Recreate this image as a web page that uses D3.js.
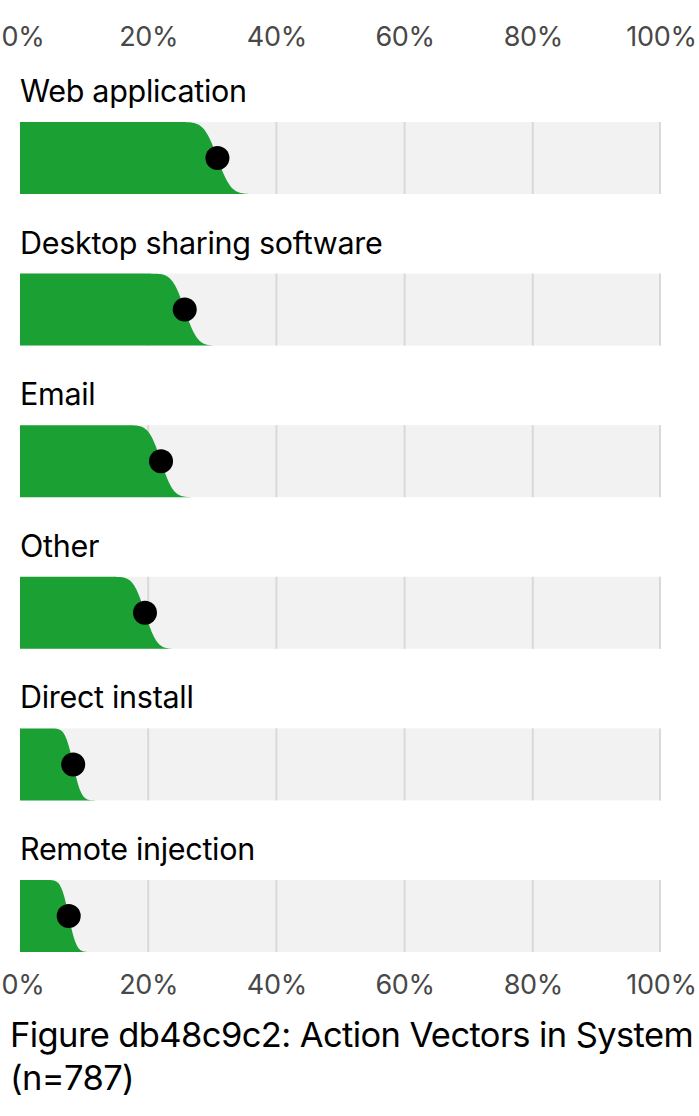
<!DOCTYPE html>
<html><head><meta charset="utf-8">
<script src="https://cdn.jsdelivr.net/npm/d3@7"></script>
<style>body{margin:0;background:#fff} svg{display:block}</style>
</head><body><svg id="c" width="699" height="1116"></svg>
<script>
const categories = ["Web application","Desktop sharing software","Email","Other","Direct install","Remote injection"];
const estimates = [30.8, 25.7, 22.0, 19.5, 8.3, 7.6];   // point estimate (%)
const spreads   = [1.65, 1.55, 1.5, 1.45, 1.0, 0.95];   // std. error (%)
const tickValues = [0, 20, 40, 60, 80, 100];
const tickLabels = ["0%", "20%", "40%", "60%", "80%", "100%"];
const titleLines = ["Figure db48c9c2: Action Vectors in System", "(n=787)"];

const FONT = "Inter, 'Liberation Sans', Arial, sans-serif";
const svg = d3.select("#c");
const x = d3.scaleLinear().domain([0, 100]).range([20, 661]);
const y = d3.scaleBand().domain(categories).range([122, 952]).paddingInner(0.525).paddingOuter(0);
const bw = y.bandwidth();

function erf(z) {
  const s = z < 0 ? -1 : 1; z = Math.abs(z);
  const t = 1 / (1 + 0.3275911 * z);
  const yv = 1 - (((((1.061405429 * t - 1.453152027) * t) + 1.421413741) * t - 0.284496736) * t + 0.254829592) * t * Math.exp(-z * z);
  return s * yv;
}
const ccdf = (v, mu, sd) => 1 - 0.5 * (1 + erf((v - mu) / (sd * Math.SQRT2)));

const rows = categories.map((c, i) => ({cat: c, est: estimates[i], sd: spreads[i]}));

const g = svg.selectAll("g.row").data(rows).join("g").attr("class", "row");

// background
g.append("rect").attr("x", x(0)).attr("y", d => y(d.cat)).attr("width", x(100) - x(0)).attr("height", bw).attr("fill", "#f2f2f2");
// gridlines
g.each(function(d) {
  d3.select(this).selectAll("line.grid").data(tickValues.slice(1)).join("line")
    .attr("class", "grid")
    .attr("x1", v => x(v) - (v === 100 ? 1 : 0)).attr("x2", v => x(v) - (v === 100 ? 1 : 0))
    .attr("y1", y(d.cat)).attr("y2", y(d.cat) + bw)
    .attr("stroke", "#d9d9d9").attr("stroke-width", 2);
});
// ccdf slab
const xs = d3.range(0, 100.001, 0.1);
g.append("path")
  .attr("d", d => {
    const bottom = y(d.cat) + bw;
    return d3.area().x(v => x(v)).y0(bottom).y1(v => bottom - bw * ccdf(v, d.est, d.sd))(xs);
  })
  .attr("fill", "#1aa033");
// point
g.append("circle").attr("cx", d => x(d.est)).attr("cy", d => y(d.cat) + bw / 2).attr("r", 12).attr("fill", "#000");
// labels
g.append("text").attr("x", x(0)).attr("y", d => y(d.cat) - 20)
  .text(d => d.cat).attr("font-family", FONT).attr("font-size", 30.5).attr("letter-spacing", "-0.3px").attr("fill", "#000");

// axes
function axis(yPos) {
  const a = svg.append("g").attr("transform", `translate(0,${yPos})`)
    .call(d3.axisTop(x).tickValues(tickValues).tickFormat((v, i) => tickLabels[i]).tickSize(0).tickPadding(0));
  a.select(".domain").remove();
  a.selectAll("text").attr("font-family", FONT).attr("font-size", 27).attr("letter-spacing", "-0.3px").attr("fill", "#484848").attr("dy", "0");
  // keep the first label inside the page edge
  a.selectAll(".tick").filter(v => v === 0).select("text")
    .attr("text-anchor", "start").attr("x", 1 - x(0));
}
axis(46);
axis(994);

// title
const t = svg.append("text").attr("x", 10).attr("y", 1047).attr("font-family", FONT).attr("font-size", 34.5).attr("letter-spacing", "-0.6px").attr("fill", "#000");
t.selectAll("tspan").data(titleLines).join("tspan").attr("x", 10).attr("dy", (d, i) => i ? 43 : 0).text(d => d);
</script></body></html>
